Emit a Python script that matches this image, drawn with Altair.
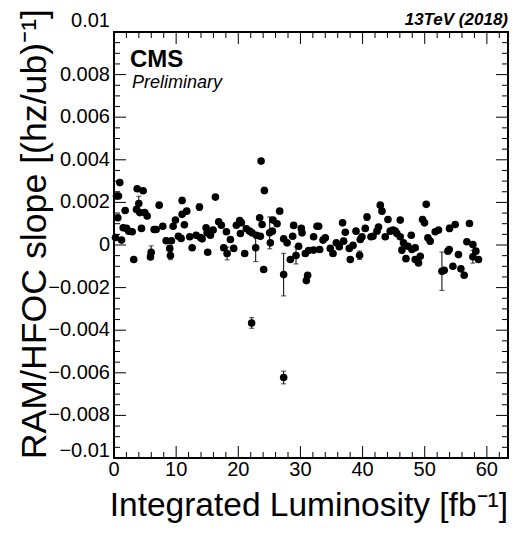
import altair as alt
import pandas as pd

# ---- data ----
LUMI = [0.24,0.93,0.40,0.72,0.61,1.21,1.80,1.48,2.01,2.38,
        2.93,3.18,3.73,4.69,3.62,3.99,4.15,4.95,5.34,4.42,
        5.98,5.87,6.46,6.78,7.27,7.85,8.39,8.97,9.08,9.24,
        9.52,9.89,10.37,10.80,10.96,10.96,11.33,11.70,12.19,12.57,
        13.22,13.75,13.91,14.18,14.82,14.98,15.08,15.51,15.95,16.32,
        16.85,17.28,17.65,18.09,18.20,18.73,19.26,19.69,20.23,20.34,
        20.50,21.03,21.30,21.83,22.22,22.80,22.91,23.44,23.67,24.20,
        24.08,23.83,23.55,25.05,25.16,25.48,25.59,26.24,26.66,27.30,
        27.30,27.85,28.38,28.75,28.91,29.29,29.71,30.14,30.26,30.79,
        31.32,31.16,30.95,32.12,32.12,32.67,32.93,33.09,33.63,34.00,
        34.81,35.24,35.77,36.25,36.78,37.22,36.95,37.86,38.02,38.46,
        38.94,39.52,39.63,39.90,40.43,40.71,41.35,41.67,42.32,42.57,
        42.85,43.12,43.65,44.08,44.45,44.89,45.26,45.53,46.06,46.06,
        46.33,46.59,46.98,47.30,47.83,47.94,48.47,48.47,49.00,49.28,
        49.65,49.97,50.24,50.51,50.88,51.69,52.22,52.77,53.14,53.73,
        53.94,53.99,54.90,54.53,55.43,55.82,56.35,56.78,57.20,57.75,
        58.23,57.75,58.65,22.15,27.30]

SLOPE = [0.00035,0.00293,0.0023,0.0023,0.00128,0.00023,0.00162,0.00081,0.00078,0.00065,
         0.00062,-0.00068,0.00264,0.00255,0.00167,0.00195,0.00152,0.00152,0.00136,0.00078,
         -0.00034,-0.00056,0.00073,0.00073,0.00187,0.00088,0.0002,-0.00016,-0.00049,0.0002,
         0.00088,0.00117,0.00041,0.00031,0.00209,0.00144,0.00095,0.00159,0.00039,-0.00013,
         0.00046,0.00178,0.00035,0.00029,0.00081,0.00057,-0.00034,0.00046,0.0007,0.00225,
         0.00109,0.00093,-0.00013,0.00062,-0.0004,0.00026,-0.00016,0.00093,0.00115,0.00054,
         0.00104,-0.0004,0.00076,0.00065,0.00057,-0.00013,0.00046,0.00128,0.00394,0.00256,
         -0.00115,0.00096,0.00041,0.00057,0.0001,0.00065,0.00117,0.001,0.00159,0.00029,
         -0.00139,0.0001,-0.00068,0.00041,0.00092,-0.00049,-0.00006,0.00078,0.00057,-0.0004,
         -0.00026,-0.00142,-0.00167,0.00039,-0.00024,0.00088,0.00088,-0.00021,0.00023,0.00034,
         -0.00016,-0.0004,0.0001,-0.00008,0.00104,0.0006,0.00018,-0.00016,-0.00068,-0.00002,
         0.00065,-0.00048,0.00026,0.00039,0.00078,0.00131,0.00039,0.00041,0.00065,0.00084,
         0.00187,0.00159,0.00039,0.0012,0.00065,0.0007,0.00065,0.00054,0.00117,0.00039,
         -0.00024,0.0001,-0.00064,-0.00006,0.00046,-0.00021,-0.00013,-0.00068,-0.00084,-0.00053,
         0.0012,0.00104,0.00191,0.00034,0.00018,0.00062,0.0007,-0.00123,-0.00119,-0.00029,
         -0.00021,0.00078,0.00096,-0.001,-0.00045,-0.00112,-0.00142,0.00015,0.00101,0.00002,
         -0.00029,-0.00055,-0.00068,-0.00366,-0.00622]

ERR = [0.0001,0.0001,0.0001,0.0001,0.0001,0.0001,0.0001,0.0001,0.0001,0.0001,
       0.0001,0.0001,0.0001,0.0001,0.0001,0.00034,0.0001,0.0001,0.0001,0.0001,
       0.0003,0.0001,0.0001,0.0001,0.0001,0.0001,0.0001,0.0001,0.0002,0.0001,
       0.0001,0.0001,0.0001,0.0001,0.00015,0.0001,0.0001,0.0001,0.0001,0.0001,
       0.0001,0.00015,0.0001,0.0001,0.0001,0.0001,0.0001,0.0001,0.0001,0.0001,
       0.0001,0.0001,0.0001,0.0001,0.0003,0.0001,0.0001,0.0001,0.0001,0.0001,
       0.0001,0.0001,0.0001,0.0001,0.0001,0.00065,0.0001,0.0001,0.0001,0.00015,
       0.0001,0.0001,0.0001,0.00075,0.0001,0.0001,0.0001,0.0001,0.0001,0.0001,
       0.001,0.0001,0.0001,0.0001,0.0001,0.0004,0.0001,0.0001,0.0001,0.0001,
       0.0001,0.0001,0.0001,0.0001,0.0001,0.0001,0.0001,0.0001,0.0001,0.0001,
       0.0001,0.0001,0.0001,0.0001,0.0001,0.0001,0.0001,0.0001,0.0001,0.0001,
       0.0001,0.0002,0.0001,0.0001,0.0001,0.00015,0.0001,0.0001,0.0001,0.0001,
       0.0001,0.0001,0.0001,0.0001,0.0001,0.0001,0.0001,0.0001,0.0001,0.0001,
       0.00015,0.0001,0.0001,0.0001,0.0001,0.0001,0.0001,0.0001,0.0001,0.0001,
       0.0001,0.0001,0.0001,0.0001,0.0001,0.0001,0.0001,0.0009,0.0001,0.0001,
       0.0001,0.00015,0.0001,0.0001,0.0001,0.0001,0.0001,0.0001,0.0001,0.0001,
       0.0001,0.0003,0.0001,0.00025,0.0003]

X_MAJOR = [0, 10, 20, 30, 40, 50, 60]
X_MINOR = [v for v in range(2, 64, 2) if v % 10 != 0]
Y_MAJOR = [-0.01, -0.008, -0.006, -0.004, -0.002, 0, 0.002, 0.004, 0.006, 0.008, 0.01]
Y_MINOR = [round(-0.01 + 0.0005 * i, 5) for i in range(41) if i % 4 != 0]

X_TITLE = "Integrated Luminosity [fb\u207b\u00b9]"
Y_TITLE = "RAM/HFOC slope [(hz/ub)\u207b\u00b9]"
CMS = "CMS"
PRELIM = "Preliminary"
ENERGY = "13TeV (2018)"

W, H = 394, 426
XMAX = 63.4
FONT = "Liberation Sans"
LBL = 20

df = pd.DataFrame({"lumi": LUMI, "slope": SLOPE, "err": ERR})
df["lo"] = df["slope"] - df["err"]
df["hi"] = df["slope"] + df["err"]

xs = alt.Scale(domain=[0, XMAX], nice=False, zero=False)
ys = alt.Scale(domain=[-0.01, 0.01], nice=False, zero=False)

base = alt.Chart(df)
bars = base.mark_rule(color="black", strokeWidth=1).encode(
    x=alt.X("lumi:Q", scale=xs, axis=None),
    y=alt.Y("lo:Q", scale=ys, axis=None),
    y2="hi:Q",
)
cap_lo = base.mark_tick(color="black", orient="horizontal", size=5, thickness=1).encode(
    x=alt.X("lumi:Q", scale=xs, axis=None), y=alt.Y("lo:Q", scale=ys, axis=None))
cap_hi = base.mark_tick(color="black", orient="horizontal", size=5, thickness=1).encode(
    x=alt.X("lumi:Q", scale=xs, axis=None), y=alt.Y("hi:Q", scale=ys, axis=None))
pts = base.mark_circle(color="black", size=58, opacity=1).encode(
    x=alt.X("lumi:Q", scale=xs, axis=None), y=alt.Y("slope:Q", scale=ys, axis=None))


def xticks(vals, length):
    d = alt.Chart(pd.DataFrame({"t": vals}))
    bot = d.mark_rule(color="black", strokeWidth=1).encode(
        x=alt.X("t:Q", scale=xs, axis=None), y=alt.value(H), y2=alt.value(H - length))
    top = d.mark_rule(color="black", strokeWidth=1).encode(
        x=alt.X("t:Q", scale=xs, axis=None), y=alt.value(0), y2=alt.value(length))
    return [bot, top]


def yticks(vals, length):
    d = alt.Chart(pd.DataFrame({"t": vals}))
    left = d.mark_rule(color="black", strokeWidth=1).encode(
        y=alt.Y("t:Q", scale=ys, axis=None), x=alt.value(0), x2=alt.value(length))
    right = d.mark_rule(color="black", strokeWidth=1).encode(
        y=alt.Y("t:Q", scale=ys, axis=None), x=alt.value(W), x2=alt.value(W - length))
    return [left, right]


def ylabels(vals, dy):
    return alt.Chart(pd.DataFrame({"t": vals})).mark_text(
        font=FONT, fontSize=LBL, align="right", baseline="middle", dx=-4, dy=dy, color="black"
    ).encode(y=alt.Y("t:Q", scale=ys, axis=None), x=alt.value(0),
             text=alt.Text("t:Q", format="~g"))


def xlabels(vals):
    return alt.Chart(pd.DataFrame({"t": vals})).mark_text(
        font=FONT, fontSize=LBL, align="center", baseline="top", color="black"
    ).encode(x=alt.X("t:Q", scale=xs, axis=None), y=alt.value(H + 2),
             text=alt.Text("t:Q", format="~g"))


def label(text, x, y, size, align="left", weight="normal", style="normal", angle=0):
    return alt.Chart(pd.DataFrame({"s": [text]})).mark_text(
        font=FONT, fontSize=size, align=align, baseline="alphabetic",
        fontWeight=weight, fontStyle=style, angle=angle, color="black",
    ).encode(text="s:N", x=alt.value(x), y=alt.value(y))


layers = [bars, cap_lo, cap_hi, pts]
layers += xticks(X_MAJOR, 12) + xticks(X_MINOR, 6)
layers += yticks(Y_MAJOR, 12) + yticks(Y_MINOR, 6)
layers += [
    ylabels(Y_MAJOR[1:-1], 0),
    ylabels(Y_MAJOR[-1:], -11),
    ylabels(Y_MAJOR[:1], -7),
    xlabels(X_MAJOR),
    label(Y_TITLE, -68, -23, 35.7, align="right", angle=270),
    label(X_TITLE, 394, 484, 33.5, align="right"),
    label(CMS, 16, 35, 24, weight="bold"),
    label(PRELIM, 18, 56, 18, style="italic"),
    label(ENERGY, 394, -7, 17, align="right", weight="bold", style="italic"),
]

chart = alt.layer(*layers).properties(
    width=W, height=H,
    autosize=alt.AutoSizeParams(type="none"),
    padding={"left": 106, "top": 24, "right": 1, "bottom": 70},
).configure_view(
    stroke="black", strokeWidth=2
)

chart.save("out.html", embed_options={"renderer": "svg", "actions": False})
